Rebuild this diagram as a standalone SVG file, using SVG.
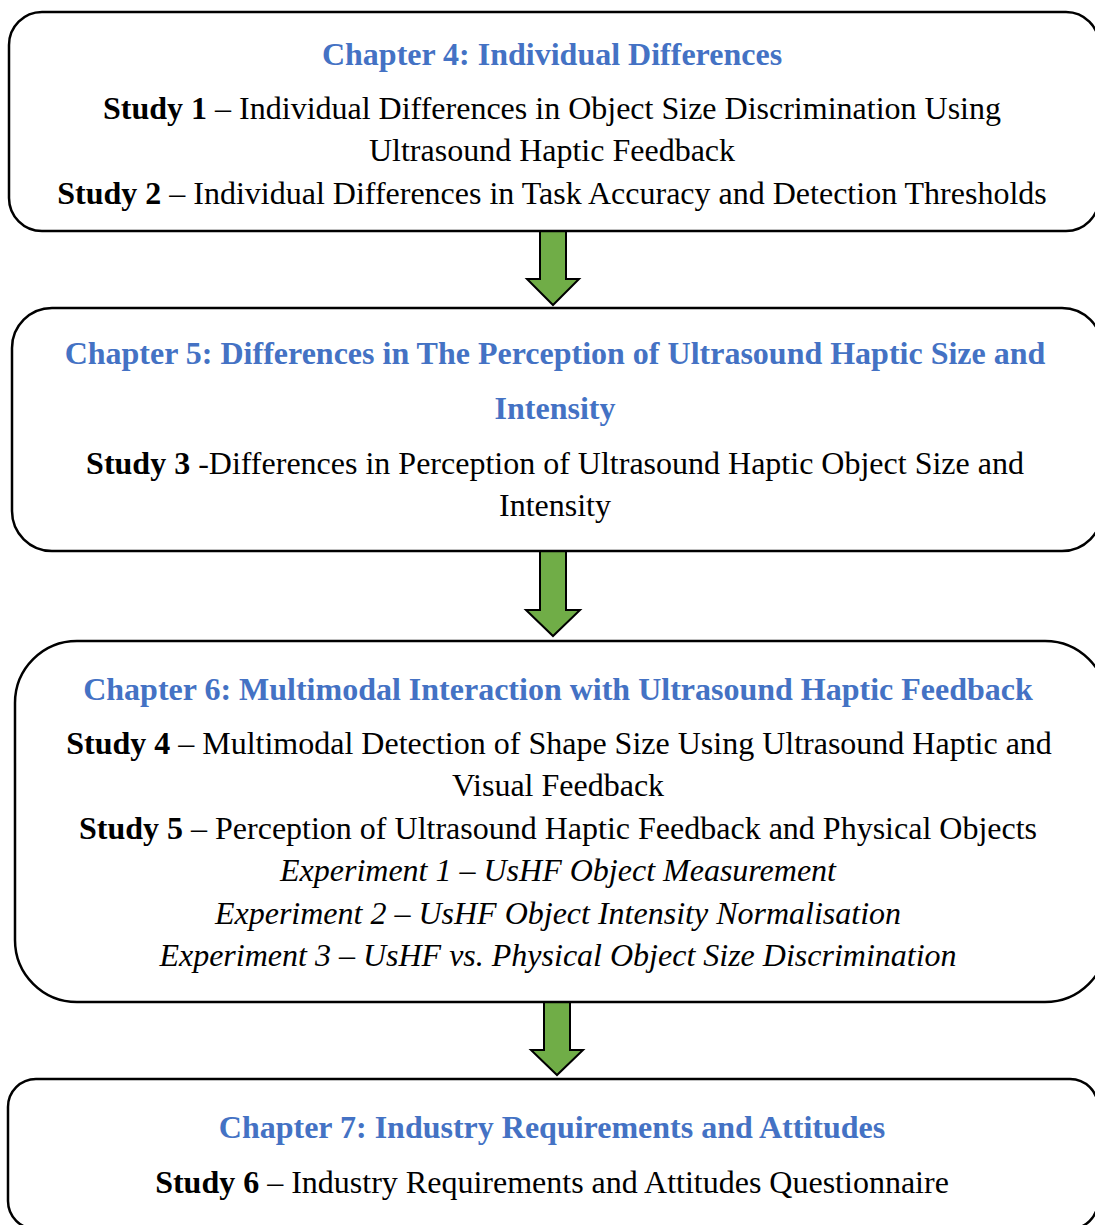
<svg xmlns="http://www.w3.org/2000/svg" width="1095" height="1225" viewBox="0 0 1095 1225">
  <style>
    .box { fill: #ffffff; stroke: #000000; stroke-width: 2.5; }
    .arrow { fill: #70AD47; stroke: #000000; stroke-width: 2; stroke-linejoin: miter; }
    text { font-family: "Liberation Serif", "Times New Roman", serif; fill: #000000; }
    .head { font-size: 32px; font-weight: bold; fill: #4472C4; }
    .body { font-size: 32px; }
    .b { font-weight: bold; }
    .i { font-style: italic; }
  </style>
  <rect width="1095" height="1225" fill="#ffffff"/>

  <g id="connectors">
    <polygon class="arrow" points="540,231 566,231 566,279 579,279 553,305 527,279 540,279"/>
    <polygon class="arrow" points="540,551 566,551 566,610 580,610 553,636 526,610 540,610"/>
    <polygon class="arrow" points="544,1002 570,1002 570,1050 583,1050 557,1075 531,1050 544,1050"/>
  </g>

  <g id="chapter4">
    <rect class="box" x="9" y="12" width="1090" height="219" rx="33" ry="33"/>
    <text class="head" x="552" y="65" text-anchor="middle">Chapter 4: Individual Differences</text>
    <text class="body" x="552" y="119" text-anchor="middle"><tspan class="b">Study 1</tspan> – Individual Differences in Object Size Discrimination Using</text>
    <text class="body" x="552" y="161" text-anchor="middle">Ultrasound Haptic Feedback</text>
    <text class="body" x="552" y="204" text-anchor="middle"><tspan class="b">Study 2</tspan> – Individual Differences in Task Accuracy and Detection Thresholds</text>
  </g>

  <g id="chapter5">
    <rect class="box" x="12" y="308" width="1090" height="243" rx="40" ry="40"/>
    <text class="head" x="555" y="364" text-anchor="middle">Chapter 5: Differences in The Perception of Ultrasound Haptic Size and</text>
    <text class="head" x="555" y="419" text-anchor="middle">Intensity</text>
    <text class="body" x="555" y="474" text-anchor="middle"><tspan class="b">Study 3</tspan> -Differences in Perception of Ultrasound Haptic Object Size and</text>
    <text class="body" x="555" y="516" text-anchor="middle">Intensity</text>
  </g>

  <g id="chapter6">
    <rect class="box" x="15" y="641" width="1092" height="361" rx="62" ry="62"/>
    <text class="head" x="558" y="700" text-anchor="middle">Chapter 6: Multimodal Interaction with Ultrasound Haptic Feedback</text>
    <text class="body" x="559" y="754" text-anchor="middle"><tspan class="b">Study 4</tspan> – Multimodal Detection of Shape Size Using Ultrasound Haptic and</text>
    <text class="body" x="558" y="796" text-anchor="middle">Visual Feedback</text>
    <text class="body" x="558" y="839" text-anchor="middle"><tspan class="b">Study 5</tspan> – Perception of Ultrasound Haptic Feedback and Physical Objects</text>
    <text class="body i" x="558" y="881" text-anchor="middle">Experiment 1 – UsHF Object Measurement</text>
    <text class="body i" x="558" y="924" text-anchor="middle">Experiment 2 – UsHF Object Intensity Normalisation</text>
    <text class="body i" x="558" y="966" text-anchor="middle">Experiment 3 – UsHF vs. Physical Object Size Discrimination</text>
  </g>

  <g id="chapter7">
    <rect class="box" x="8" y="1079" width="1090" height="150" rx="28" ry="28"/>
    <text class="head" x="552" y="1138" text-anchor="middle">Chapter 7: Industry Requirements and Attitudes</text>
    <text class="body" x="552" y="1193" text-anchor="middle"><tspan class="b">Study 6</tspan> – Industry Requirements and Attitudes Questionnaire</text>
  </g>
</svg>
